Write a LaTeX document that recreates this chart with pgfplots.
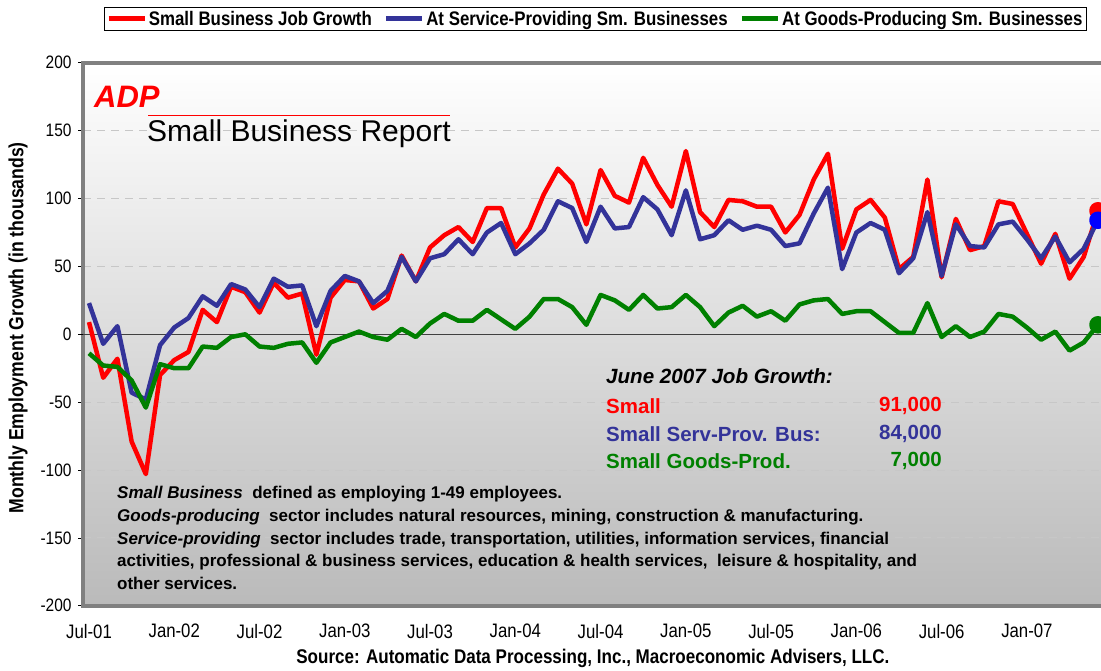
\documentclass[border=0pt]{standalone}
\usepackage{pgfplots}
\pgfplotsset{compat=1.18}
\usepackage{fontspec}
\setmainfont{Liberation Sans}
\newfontfamily\narrow{Liberation Sans}[FakeStretch=0.86]

\definecolor{adpred}{RGB}{255,0,0}
\definecolor{adpblue}{RGB}{51,51,153}
\definecolor{adpgreen}{RGB}{0,128,0}

% monthly values, Jul-01 (0) .. Jun-07 (71), thousands
\pgfplotstableread{
m small serv goods
0 9 23 -14
1 -32 -7 -23
2 -18 6 -24
3 -79 -43 -34
4 -103 -48 -54
5 -30 -8 -22
6 -19 5 -25
7 -13 12 -25
8 18 28 -9
9 9 21 -10
10 35 37 -2
11 31 33 0
12 16 20 -9
13 38 41 -10
14 27 35 -7
15 30 36 -6
16 -15 6 -21
17 27 32 -6
18 40 43 -2
19 39 39 2
20 19 23 -2
21 26 32 -4
22 58 57 4
23 39 39 -2
24 64 56 8
25 73 59 15
26 79 70 10
27 68 59 10
28 93 75 18
29 93 82 11
30 64 59 4
31 78 67 13
32 103 77 26
33 122 98 26
34 111 93 20
35 81 68 7
36 121 94 29
37 102 78 25
38 97 79 18
39 130 101 29
40 110 92 19
41 94 73 20
42 135 106 29
43 90 70 20
44 79 73 6
45 99 84 16
46 98 77 21
47 94 80 13
48 94 77 17
49 75 65 10
50 88 67 22
51 114 89 25
52 133 108 26
53 63 48 15
54 92 75 17
55 99 82 17
56 86 77 9
57 48 45 1
58 57 56 1
59 114 90 23
60 42 43 -2
61 85 81 6
62 62 65 -2
63 65 64 2
64 98 81 15
65 96 83 13
66 74 70 5
67 52 56 -4
68 74 72 2
69 41 53 -12
70 57 63 -6
71 91 84 7
}\jobdata

\begin{document}
\begin{tikzpicture}[x=1pt,y=1pt]
\begin{axis}[
    anchor=origin, at={(89pt,335.7pt)},
    scale only axis, width=1030pt, height=543pt,
    xmin=-0.42, xmax=72.06,
    ymin=-200, ymax=200,
    ytick={-200,-150,...,200},
    xtick={0,6,...,66},
    xticklabels={Jul-01,Jan-02,Jul-02,Jan-03,Jul-03,Jan-04,Jul-04,Jan-05,Jul-05,Jan-06,Jul-06,Jan-07},
    /pgf/number format/assume math mode=true,
    yticklabel style={font=\narrow\fontsize{18}{18}\selectfont, xshift=-3pt},
    xticklabel style={font=\narrow\fontsize{19.5}{19.5}\selectfont, yshift=-10pt},
    xtick style={draw=none},
    ytick pos=left, tick align=outside, major tick length=5pt,
    ytick style={black, line width=0.8pt},
    ymajorgrids,
    major grid style={color=black!22, line width=1pt, dash pattern=on 8pt off 6pt},
    extra y ticks={0}, extra y tick labels={},
    extra y tick style={grid=major, major grid style={black!75, line width=1.2pt, solid}},
    axis background/.style={shade, top color=white, bottom color={rgb,255:red,186;green,186;blue,186}},
    axis line style={draw=black!50, line width=3.5pt},
    ylabel={Monthly Employment Growth (in thousands)},
    ylabel style={at={(axis description cs:-0.063,0.512)}, anchor=center, font=\narrow\bfseries\fontsize{20.5}{20.5}\selectfont},
    xlabel={Source: Automatic Data Processing, Inc., Macroeconomic Advisers, LLC.},
    xlabel style={at={(axis description cs:0.495,-0.0976)}, anchor=center, font=\narrow\bfseries\fontsize{19.8}{19.8}\selectfont},
    legend columns=3,
    legend style={at={(axis description cs:0.4975,1.103)}, anchor=north, draw=black, line width=1pt,
        fill=white, font=\narrow\bfseries\fontsize{19.6}{19.6}\selectfont, inner xsep=2pt, inner ysep=1.5pt,
        /tikz/every even column/.append style={column sep=10pt}},
    legend image code/.code={\draw[#1, line width=4.5pt] (0pt,0pt) -- (36pt,0pt);},
    every axis plot/.append style={line width=4.5pt, line join=round},
]
\addplot[adpred] table[x=m, y=small] {\jobdata};
\addlegendentry{Small Business Job Growth}
\addplot[adpblue] table[x=m, y=serv] {\jobdata};
\addlegendentry{At Service-Providing Sm. Businesses}
\addplot[adpgreen] table[x=m, y=goods] {\jobdata};
\addlegendentry{At Goods-Producing Sm. Businesses}
% June 2007 end points
\addplot[forget plot, only marks, mark=*, mark size=6.5pt, color=adpred] coordinates {(71,91)};
\addplot[forget plot, only marks, mark=*, mark size=6.5pt, color=blue] coordinates {(71,84)};
\addplot[forget plot, only marks, mark=*, mark size=6.5pt, color=adpgreen] coordinates {(71,7)};
\end{axis}

% logo and report title
\node[anchor=west, text=adpred, font=\bfseries\itshape\fontsize{31}{31}\selectfont, inner sep=0pt] at (94,573) {ADP};
\draw[adpred, line width=0.8pt] (148,555) -- (450,555);
\node[anchor=west, font=\fontsize{30}{30}\selectfont, inner sep=0pt] at (147,536) {Small Business Report};

% June 2007 summary
\begin{scope}[every node/.style={inner sep=0pt, font=\bfseries\fontsize{20.5}{20.5}\selectfont}]
\node[anchor=west, font=\bfseries\itshape\fontsize{20.6}{20.6}\selectfont] at (606,294) {June 2007 Job Growth:};
\node[anchor=west, text=adpred] at (606,264) {Small};
\node[anchor=east, text=adpred] at (942,264) {91,000};
\node[anchor=west, text=adpblue] at (606,236) {Small Serv-Prov. Bus:};
\node[anchor=east, text=adpblue] at (942,236) {84,000};
\node[anchor=west, text=adpgreen] at (606,209) {Small Goods-Prod.};
\node[anchor=east, text=adpgreen] at (942,209) {7,000};
\end{scope}

% definitions
\begin{scope}[every node/.style={inner sep=0pt, anchor=west, font=\bfseries\fontsize{17}{17}\selectfont}]
\node at (117,176) {\textit{Small Business}\ \ defined as employing 1-49 employees.};
\node at (117,153) {\textit{Goods-producing}\ \ sector includes natural resources, mining, construction \& manufacturing.};
\node at (117,130) {\textit{Service-providing}\ \ sector includes trade, transportation, utilities, information services, financial};
\node at (117,108) {activities, professional \& business services, education \& health services,\ \ leisure \& hospitality, and};
\node at (117,87) {other services.};
\end{scope}

\pgfresetboundingbox
\useasboundingbox (0,0) rectangle (1101,670);
\end{tikzpicture}
\end{document}
